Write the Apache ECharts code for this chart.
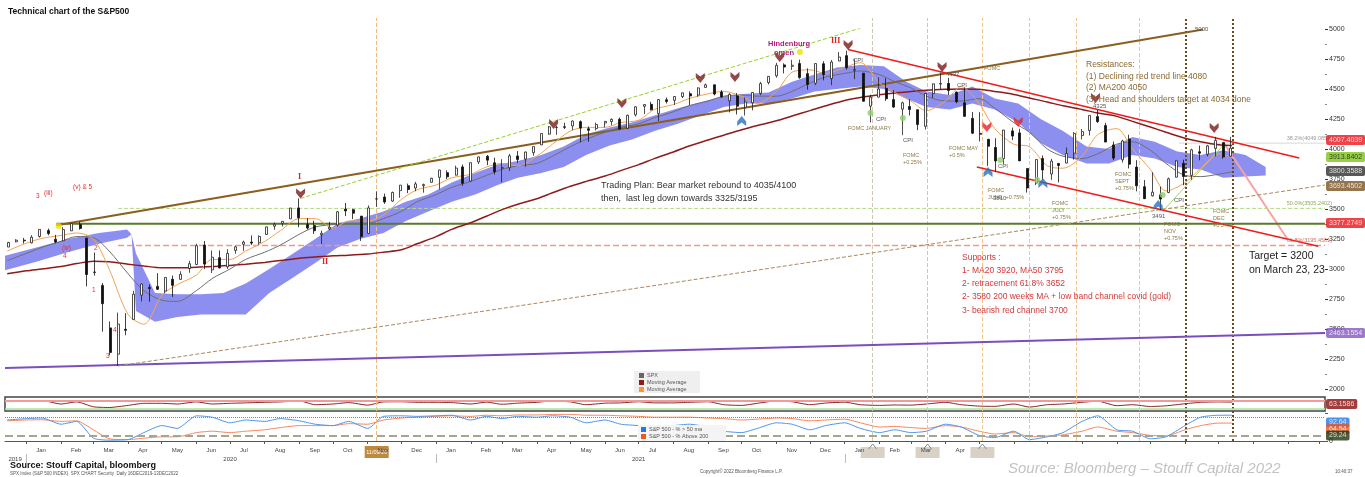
<!DOCTYPE html>
<html><head><meta charset="utf-8">
<script src="https://cdn.jsdelivr.net/npm/echarts@6/dist/echarts.min.js"></script>
<style>html,body{margin:0;padding:0;background:#fff}#c{width:1365px;height:477px}</style>
</head><body><div id="c"></div>
<script>
// ---------------- DATA ----------------
const weeks = ['2019-12-16','2019-12-23','2019-12-30','2020-01-06','2020-01-13','2020-01-21','2020-01-27','2020-02-03','2020-02-10','2020-02-18','2020-02-24','2020-03-02','2020-03-09','2020-03-16','2020-03-23','2020-03-30','2020-04-06','2020-04-13','2020-04-20','2020-04-27','2020-05-04','2020-05-11','2020-05-18','2020-05-26','2020-06-01','2020-06-08','2020-06-15','2020-06-22','2020-06-29','2020-07-06','2020-07-13','2020-07-20','2020-07-27','2020-08-03','2020-08-10','2020-08-17','2020-08-24','2020-08-31','2020-09-08','2020-09-14','2020-09-21','2020-09-28','2020-10-05','2020-10-12','2020-10-19','2020-10-26','2020-11-02','2020-11-09','2020-11-16','2020-11-23','2020-11-30','2020-12-07','2020-12-14','2020-12-21','2020-12-28','2021-01-04','2021-01-11','2021-01-19','2021-01-25','2021-02-01','2021-02-08','2021-02-16','2021-02-22','2021-03-01','2021-03-08','2021-03-15','2021-03-22','2021-03-29','2021-04-05','2021-04-12','2021-04-19','2021-04-26','2021-05-03','2021-05-10','2021-05-17','2021-05-24','2021-06-01','2021-06-07','2021-06-14','2021-06-21','2021-06-28','2021-07-06','2021-07-12','2021-07-19','2021-07-26','2021-08-02','2021-08-09','2021-08-16','2021-08-23','2021-08-30','2021-09-07','2021-09-13','2021-09-20','2021-09-27','2021-10-04','2021-10-11','2021-10-18','2021-10-25','2021-11-01','2021-11-08','2021-11-15','2021-11-22','2021-11-29','2021-12-06','2021-12-13','2021-12-20','2021-12-27','2022-01-03','2022-01-10','2022-01-18','2022-01-24','2022-01-31','2022-02-07','2022-02-14','2022-02-22','2022-02-28','2022-03-07','2022-03-14','2022-03-21','2022-03-28','2022-04-04','2022-04-11','2022-04-18','2022-04-25','2022-05-02','2022-05-09','2022-05-16','2022-05-23','2022-05-31','2022-06-06','2022-06-13','2022-06-21','2022-06-27','2022-07-05','2022-07-11','2022-07-18','2022-07-25','2022-08-01','2022-08-08','2022-08-15','2022-08-22','2022-08-29','2022-09-06','2022-09-12','2022-09-19','2022-09-26','2022-10-03','2022-10-10','2022-10-17','2022-10-24','2022-10-31','2022-11-07','2022-11-14','2022-11-21','2022-11-28','2022-12-05','2022-12-12'];
const wOpen  = [3183,3227,3240,3218,3271,3321,3248,3235,3318,3370,3257,2975,2863,2509,2290,2498,2579,2782,2846,2855,2816,2915,2914,3004,3038,3199,2993,3094,3018,3155,3206,3224,3219,3288,3357,3380,3418,3509,3371,3363,3285,3334,3367,3500,3494,3441,3296,3583,3600,3566,3653,3694,3675,3694,3723,3764,3803,3782,3851,3732,3892,3939,3885,3842,3844,3942,3916,3969,4034,4124,4179,4185,4192,4228,4169,4170,4217,4229,4248,4173,4285,4356,4372,4296,4410,4406,4437,4461,4450,4513,4535,4474,4402,4442,4348,4385,4464,4553,4610,4701,4689,4712,4628,4548,4710,4587,4733,4778,4655,4632,4357,4432,4506,4412,4332,4354,4327,4189,4462,4541,4547,4474,4385,4255,4130,4081,4013,3920,4151,4134,3838,3716,3921,3792,3880,3883,3966,4112,4155,4270,4195,4034,3910,4084,3849,3686,3610,3618,3638,3765,3881,3780,3977,3956,4005,4053,3940];
const wHigh  = [3226,3248,3259,3282,3329,3337,3285,3348,3385,3393,3260,3137,2883,2563,2637,2632,2818,2879,2871,2965,2931,2945,2981,3068,3211,3233,3155,3155,3165,3190,3236,3280,3280,3352,3387,3399,3509,3588,3425,3402,3320,3393,3482,3550,3502,3441,3530,3646,3628,3645,3699,3712,3726,3712,3760,3827,3823,3861,3871,3887,3937,3950,3928,3915,3960,3983,3978,4020,4130,4192,4195,4219,4238,4238,4188,4220,4234,4255,4262,4286,4356,4372,4393,4415,4429,4442,4470,4480,4513,4545,4536,4492,4465,4466,4429,4475,4560,4608,4718,4714,4743,4744,4672,4713,4731,4741,4808,4819,4749,4632,4453,4596,4591,4490,4395,4416,4327,4466,4546,4637,4593,4479,4513,4308,4307,4081,4090,4159,4178,4168,3838,3913,3946,3918,3880,4013,4141,4167,4280,4325,4218,4062,4077,4119,3907,3741,3806,3686,3762,3905,3911,4002,4028,4034,4101,4053,4101];
const wLow   = [3183,3222,3212,3214,3262,3281,3214,3233,3316,3328,2855,2945,2478,2280,2192,2448,2579,2729,2727,2825,2798,2767,2910,2969,3032,2999,2966,3004,3000,3127,3151,3200,3204,3285,3327,3355,3418,3349,3329,3292,3209,3323,3354,3441,3416,3234,3296,3518,3543,3560,3594,3633,3648,3636,3720,3663,3750,3779,3694,3726,3875,3865,3788,3723,3817,3885,3853,3944,4034,4119,4118,4166,4157,4056,4061,4155,4180,4198,4164,4165,4271,4290,4321,4233,4379,4367,4424,4367,4436,4513,4447,4427,4305,4288,4279,4322,4448,4538,4595,4630,4659,4585,4495,4532,4572,4532,4733,4662,4582,4395,4222,4432,4401,4343,4115,4279,4157,4162,4425,4497,4450,4381,4268,4124,4063,3859,3811,3876,4074,3900,3637,3700,3741,3743,3722,3880,3911,4080,4113,4218,4057,3907,3887,3838,3647,3584,3604,3491,3632,3764,3698,3744,3906,3938,3938,3919,3936];
const wClose = [3221,3240,3235,3265,3330,3295,3225,3328,3380,3338,2954,2972,2711,2305,2541,2489,2790,2875,2837,2831,2930,2864,2955,3044,3194,3041,3098,3009,3130,3185,3225,3216,3271,3351,3373,3397,3508,3427,3341,3319,3298,3348,3477,3484,3465,3270,3509,3585,3558,3638,3699,3663,3709,3703,3756,3825,3768,3841,3714,3886,3934,3907,3811,3842,3943,3913,3975,4020,4129,4185,4180,4181,4233,4174,4156,4204,4230,4247,4166,4281,4352,4370,4327,4412,4395,4437,4468,4442,4509,4535,4458,4433,4455,4357,4391,4471,4545,4605,4697,4683,4698,4595,4538,4712,4620,4725,4766,4677,4663,4398,4432,4500,4419,4349,4385,4329,4204,4463,4543,4546,4488,4393,4272,4132,4123,4023,3901,4158,4108,3901,3675,3912,3825,3899,3863,3962,4130,4145,4280,4228,4058,3924,4067,3873,3693,3586,3640,3583,3752,3901,3771,3993,3965,4026,4072,3934,4007];

const semiDates = ['2019-12-15','2020-01-01','2020-01-15','2020-02-01','2020-02-15','2020-03-01','2020-03-15','2020-04-01','2020-04-15','2020-05-01','2020-05-15','2020-06-01','2020-06-15','2020-07-01','2020-07-15','2020-08-01','2020-08-15','2020-09-01','2020-09-15','2020-10-01','2020-10-15','2020-11-01','2020-11-15','2020-12-01','2020-12-15','2021-01-01','2021-01-15','2021-02-01','2021-02-15','2021-03-01','2021-03-15','2021-04-01','2021-04-15','2021-05-01','2021-05-15','2021-06-01','2021-06-15','2021-07-01','2021-07-15','2021-08-01','2021-08-15','2021-09-01','2021-09-15','2021-10-01','2021-10-15','2021-11-01','2021-11-15','2021-12-01','2021-12-15','2022-01-01','2022-01-15','2022-02-01','2022-02-15','2022-03-01','2022-03-15','2022-04-01','2022-04-15','2022-05-01','2022-05-15','2022-06-01','2022-06-15','2022-07-01','2022-07-15','2022-08-01','2022-08-15','2022-09-01','2022-09-15','2022-10-01','2022-10-15','2022-11-01','2022-11-15','2022-12-01','2022-12-13'];
const ma20  = [3150,3215,3255,3280,3300,3250,3000,2620,2540,2780,2870,2950,3080,3080,3150,3230,3320,3420,3420,3340,3400,3400,3450,3580,3660,3700,3760,3790,3850,3880,3860,3940,4040,4150,4180,4180,4220,4240,4330,4370,4420,4460,4480,4440,4380,4480,4640,4660,4630,4680,4720,4550,4470,4400,4320,4400,4520,4380,4170,4040,4020,3860,3840,3940,4120,4170,4000,3830,3650,3720,3840,3960,3930];
const ma50  = [3070,3130,3180,3230,3270,3260,3150,2960,2820,2740,2730,2820,2920,3000,3080,3140,3200,3290,3350,3370,3380,3380,3420,3480,3560,3620,3680,3730,3780,3830,3860,3880,3940,4020,4080,4140,4180,4210,4260,4310,4360,4400,4440,4450,4440,4440,4480,4550,4600,4630,4650,4620,4560,4510,4440,4400,4400,4420,4340,4220,4140,4000,3940,3920,3960,4040,4060,3990,3880,3780,3770,3790,3810];
const ma200 = [2960,2985,3000,3020,3045,3065,3060,3040,3025,3010,3010,3015,3020,3030,3040,3055,3070,3090,3100,3110,3115,3125,3140,3160,3210,3270,3330,3385,3440,3495,3540,3585,3635,3690,3730,3775,3820,3870,3920,3975,4025,4075,4115,4160,4195,4235,4275,4320,4360,4405,4430,4452,4466,4480,4490,4497,4500,4498,4480,4455,4425,4392,4360,4330,4300,4272,4230,4183,4140,4090,4060,4035,4030];
const rsi   = [70,72,75,50,65,30,25,40,55,55,50,65,50,55,58,62,65,72,45,50,60,42,65,66,62,62,60,50,63,48,56,62,72,65,45,56,58,66,58,58,62,66,45,40,55,72,66,45,57,63,45,40,43,42,50,62,45,35,33,50,28,45,50,62,70,38,45,32,37,52,62,65,63];
const pct50 = [75,80,82,60,70,10,3,5,30,55,45,90,85,65,75,70,80,72,60,55,70,45,88,90,88,90,92,75,88,80,88,85,90,85,65,75,60,55,50,55,60,50,35,30,45,65,60,40,55,65,45,30,40,30,35,60,50,20,12,35,5,15,30,70,90,40,35,8,15,55,85,92,92];
const pct200= [72,75,76,70,72,40,8,5,10,15,15,30,35,30,35,40,48,55,55,55,62,60,75,82,85,88,90,88,92,90,93,93,95,95,92,92,90,88,85,85,85,82,80,75,78,82,80,72,75,78,65,50,52,48,45,55,50,35,25,30,15,18,22,35,50,35,30,20,18,40,55,64,64];

const cloudDates = ['2019-12-13','2020-01-10','2020-02-07','2020-03-06','2020-03-31','2020-04-04','2020-04-08','2020-04-25','2020-05-15','2020-06-05','2020-06-25','2020-07-15','2020-08-05','2020-08-25','2020-09-15','2020-10-05','2020-10-25','2020-11-15','2020-12-05','2020-12-25','2021-01-15','2021-02-05','2021-02-25','2021-03-15','2021-04-05','2021-04-25','2021-05-15','2021-06-05','2021-06-25','2021-07-15','2021-08-05','2021-08-25','2021-09-15','2021-10-05','2021-10-25','2021-11-15','2021-12-05','2021-12-25','2022-01-15','2022-02-05','2022-02-25','2022-03-15','2022-04-05','2022-04-25','2022-05-15','2022-06-05','2022-06-25','2022-07-15','2022-08-05','2022-08-25','2022-09-15','2022-10-05','2022-10-25','2022-11-15','2022-12-05','2022-12-25','2023-01-12'];
const cloudLo = [2990,3060,3140,3210,3260,3290,2650,2560,2600,2620,2620,2620,2800,2920,3050,3180,3250,3300,3400,3480,3560,3620,3700,3760,3800,3850,3950,4030,4080,4150,4210,4280,4350,4380,4380,4420,4480,4500,4520,4500,4420,4350,4330,4380,4330,4220,4050,3950,3880,3880,3950,3920,3850,3830,3760,3770,3780];
const cloudHi = [3110,3180,3250,3300,3330,3290,3130,2800,2790,2790,2800,2880,3000,3120,3250,3380,3420,3480,3560,3620,3720,3800,3870,3900,3950,4020,4120,4180,4220,4280,4340,4390,4440,4460,4470,4560,4620,4680,4700,4690,4560,4480,4450,4520,4420,4380,4250,4150,4020,4000,4100,4060,3980,3950,3990,3950,3850];

// trend lines: [date, price] end points
const brownTrend   = [['2020-01-28',3365],['2022-11-17',4995]];
const greenChannel = [['2020-09-02',3588],['2022-02-02',5058]];
const covidChannel = [['2020-03-23',2192],['2023-03-06',3700]];
const purpleLine   = [['2019-12-13',2175],['2023-03-06',2467]];
const redTop       = [['2022-01-04',4830],['2023-02-11',3925]];
const redBottom    = [['2022-04-29',3850],['2023-02-28',3190]];
const pinkArrow    = [['2022-12-05',4058],['2023-02-01',3242]];
const greenShort   = [['2022-10-13',3491],['2022-12-05',4030]];
const level3377 = [['2020-01-28',3377],['2023-03-06',3377]];
const level3505 = [['2020-03-23',3505],['2023-03-06',3505]];
const level3195 = [['2020-03-23',3195],['2023-03-06',3195]];
const level4049 = [['2022-10-27',4049],['2023-03-06',4049]];

const sellDates  = ['2020-09-02','2021-04-16','2021-06-16','2021-08-25','2021-09-25','2021-11-04','2022-01-04','2022-03-29','2022-08-13','2022-11-27'];
const sellPrices = [3630,4208,4383,4592,4600,4767,4867,4683,4425,4175];
const redArrowDates = ['2022-05-08','2022-06-05'];
const redArrowPrices = [4183,4225];
const buyDates  = ['2021-10-01','2022-05-09','2022-06-27','2022-10-08'];
const buyPrices = [4233,3808,3717,3533];
const greenDotDates = ['2022-01-24','2022-02-22','2022-05-20','2022-06-22','2022-10-12'];
const greenDotPrices = [4300,4258,3908,3742,3617];
const yellowDotDates = ['2020-01-30','2021-11-22'];
const yellowDotPrices = [3358,4808];

const fomcMinor = ['2022-05-04','2022-06-15','2022-07-27','2022-09-21'];
const fomcGray  = ['2022-01-26','2022-03-16'];
const fomcMajor = ['2022-11-02','2022-12-14'];
const vaccineDay = '2020-11-09';

const tagTexts = ['4007.4039','3913.8402','3800.3588','3693.4502','3377.2749','2463.1554'];
const tagPos   = [4075,3933,3817,3692,3383,2467];
const rsiTagText = ['63.1586'];  const rsiTagPos = [50];
const brTagText = ['92.64','64.54','29.24']; const brTagPos = [66,44,20];

const monthNames = ['Jan','Feb','Mar','Apr','May','Jun','Jul','Aug','Sep','Oct','Nov','Dec'];
const yearLabels = [['2019','2019-12-22'],['2020','2020-07-01'],['2021','2021-07-01']];
const X_MIN = '2019-12-13', X_MAX = '2023-03-06';

// ---------------- STYLE ----------------
const FONT = '"Liberation Sans", Arial, sans-serif';
const TAG_BG = ['#e8141c','#7cc417','#2e2e2e','#7a5322','#e8141c','#8558be'];
const TAG_FG = ['#fff','#1a1a1a','#fff','#fff','#fff','#fff'];
const BR_BG = ['#1f78e6','#f0561e','#23330e'];

function ts(d){const p=d.split('-').map(Number);return new Date(p[0],p[1]-1,p[2]).getTime();}
function pts(a,b){return a.map((d,i)=>[d,b[i]]);}

const chart = echarts.init(document.getElementById('c'), null, {renderer:'canvas'});

function xAx(gi, show){
  return {type:'time', gridIndex:gi, min:ts(X_MIN), max:ts(X_MAX), show:show, splitLine:{show:false}};
}
const bottomX = xAx(3,true);
Object.assign(bottomX,{
  splitNumber:40, minInterval:27*864e5, maxInterval:32*864e5,
  axisLine:{show:true,lineStyle:{color:'#555',width:1}},
  axisTick:{show:true,length:3,lineStyle:{color:'#555'}},
  axisLabel:{fontSize:6, color:'#444', fontFamily:FONT, margin:6, align:'left', padding:[0,0,0,10],
    formatter:function(v){const d=new Date(v); if(d<new Date(2020,0,1)||d>new Date(2022,3,15)) return ''; return monthNames[d.getMonth()];}}
});

function line(data, color, width, type, extra){
  return Object.assign({type:'line', xAxisIndex:1, yAxisIndex:1, data:data, symbol:'none', silent:true,
    lineStyle:{color:color,width:width,type:type||'solid'}, z:5}, extra||{});
}
function lvlLabel(txt,color){
  return {endLabel:{show:true, formatter:txt, color:color, fontSize:5.5, fontFamily:FONT, align:'right', offset:[-1,-5]}};
}
function vlines(dates,color,width,type){
  return {type:'line', xAxisIndex:0, yAxisIndex:0, data:[[ts(X_MIN),0.5]], symbol:'none', silent:true, lineStyle:{opacity:0},
    markLine:{symbol:'none', silent:true, label:{show:false}, lineStyle:{color:color,width:width,type:type},
      data:dates.map(d=>({xAxis:ts(d)}))}, z:1};
}
function markers(dates,prices,symbol,color,size,offset){
  return {type:'scatter', xAxisIndex:1, yAxisIndex:1, data:pts(dates,prices), symbol:symbol, symbolSize:size,
    symbolOffset:offset||[0,0], itemStyle:{color:color}, silent:true, z:12};
}
function tags(xi,yi,pos,texts,bgs,fgs){
  return {type:'scatter', xAxisIndex:xi, yAxisIndex:yi, symbolSize:0, clip:false, silent:true, z:30,
    data:pos.map((v,i)=>({value:[ts(X_MAX),v], label:{formatter:texts[i], backgroundColor:bgs[i], color:fgs[i]}})),
    label:{show:true, position:'right', distance:1, fontSize:7, fontFamily:FONT, padding:[2,3,1,3], borderRadius:2}};
}

const DOWN = 'path://M0,0 L5,4 L10,0 L10,5 L5,11 L0,5 Z';
const UP   = 'path://M0,11 L5,7 L10,11 L10,6 L5,0 L0,6 Z';

const option = {
  animation:false,
  backgroundColor:'#fff',
  grid:[
    {left:5,right:40,top:18,bottom:36,outerBoundsMode:'none'},
    {left:5,right:40,top:29,height:360,outerBoundsMode:'none'},
    {left:5,right:40,top:397,height:14,show:true,borderColor:'#444',borderWidth:1.5,outerBoundsMode:'none'},
    {left:5,right:40,top:413,height:28,outerBoundsMode:'none'}
  ],
  xAxis:[xAx(0,false),xAx(1,false),xAx(2,false),bottomX],
  yAxis:[
    {gridIndex:0,type:'value',min:0,max:1,show:false},
    {gridIndex:1,type:'value',position:'right',min:2000,max:5000,interval:250,
      splitLine:{show:false},axisLine:{show:false},
      axisTick:{show:true,length:3,lineStyle:{color:'#333'}},
      minorTick:{show:true,splitNumber:2,length:2,lineStyle:{color:'#888'}},
      axisLabel:{fontSize:7,color:'#333',margin:4,fontFamily:FONT,formatter:v=>String(v)}},
    {gridIndex:2,type:'value',min:0,max:100,show:false},
    {gridIndex:3,type:'value',position:'right',min:0,max:100,interval:100,splitLine:{show:false},
      axisLine:{show:false},axisTick:{show:true,length:3},
      axisLabel:{fontSize:7,color:'#333',margin:4,fontFamily:FONT,formatter:v=>v===0?'0':''}}
  ],
  series:[
    vlines([vaccineDay],'#f2b97a',1,'dashed'),
    vlines(fomcGray,'#cfc6b4',1,'dashed'),
    vlines(fomcMinor,'#f3c58e',1,'dashed'),
    vlines(fomcMajor,'#6b4a1e',2,'dotted'),
    // Ichimoku cloud
    {type:'custom', xAxisIndex:1, yAxisIndex:1, data:[[ts(X_MIN),3000]], silent:true, z:2, clip:true,
      renderItem:function(params, api){
        const p=[];
        for(let i=0;i<cloudDates.length;i++) p.push(api.coord([ts(cloudDates[i]),cloudHi[i]]));
        for(let i=cloudDates.length-1;i>=0;i--) p.push(api.coord([ts(cloudDates[i]),cloudLo[i]]));
        return {type:'polygon', shape:{points:p}, style:{fill:'#8d8ff0'}, clipPath:{type:'rect',shape:params.coordSys}};
      }},
    line(level3377,'#5a7a2a',2,'solid'),
    line(level3505,'#b5d88a',1,'dashed',lvlLabel('50.0%(3505.2402)','#8aaa5a')),
    line(level3195,'#eb9a8a',1.5,'dashed',lvlLabel('61.8%(3195.4501)','#d07060')),
    line(level4049,'#b0b0b0',1,'dotted',lvlLabel('38.2%(4049.0851)','#999')),
    line(purpleLine,'#7b4fbb',2,'solid'),
    line(covidChannel,'#a88a5e',1,'dashed'),
    line(brownTrend,'#8b5e1e',2,'solid'),
    line(greenChannel,'#9acd32',1,'dashed'),
    line(greenShort,'#9fd86a',1,'solid'),
    line(redTop,'#ee1c1c',1.5,'solid'),
    line(redBottom,'#ee1c1c',1.5,'solid'),
    {type:'line', xAxisIndex:1, yAxisIndex:1, data:[], silent:true, z:9,
      markLine:{silent:true, symbol:['none','arrow'], symbolSize:[0,10], label:{show:false},
        lineStyle:{color:'#f5a3a3',width:2,type:'solid'},
        data:[[{coord:[ts(pinkArrow[0][0]),pinkArrow[0][1]]},{coord:[ts(pinkArrow[1][0]),pinkArrow[1][1]]}]]}},
    line(pts(semiDates,ma200),'#8e1b1b',1.5,'solid',{smooth:0.3,z:6}),
    line(pts(semiDates,ma50),'#6e6e6e',1,'solid',{smooth:0.3,z:6}),
    line(pts(semiDates,ma20),'#f5a251',1,'solid',{smooth:0.3,z:6}),
    {type:'candlestick', xAxisIndex:1, yAxisIndex:1, barWidth:2.5, silent:true, z:7,
      data:weeks.map((d,i)=>[ts(d),wOpen[i],wClose[i],wLow[i],wHigh[i]]),
      encode:{x:0,y:[1,2,3,4]},
      itemStyle:{color:'#ffffff',color0:'#111',borderColor:'#222',borderColor0:'#111',borderWidth:0.8}},
    markers(sellDates,sellPrices,DOWN,'#7a1a1a',[9,10]),
    markers(redArrowDates,redArrowPrices,DOWN,'#e52424',[9,10]),
    markers(buyDates,buyPrices,UP,'#2d6fbe',[9,10]),
    markers(greenDotDates,greenDotPrices,'circle','#8fd06a',6),
    markers(yellowDotDates,yellowDotPrices,'circle','#f3e000',6),
    tags(1,1,tagPos,tagTexts,TAG_BG,TAG_FG),
    // panel A
    {type:'line', xAxisIndex:2, yAxisIndex:2, data:pts(semiDates,rsi), symbol:'none', silent:true, smooth:0.2,
      lineStyle:{color:'#8e2020',width:1},
      markLine:{symbol:'none',silent:true,label:{show:false},data:[
        {yAxis:72,lineStyle:{color:'#f29a9a',width:2,type:'solid'}},
        {yAxis:16,lineStyle:{color:'#a8e29a',width:1.5,type:'solid'}}]}},
    tags(2,2,rsiTagPos,rsiTagText,['#8b0c0c'],['#fff']),
    // panel B
    {type:'line', xAxisIndex:3, yAxisIndex:3, data:pts(semiDates,pct200), symbol:'none', silent:true, smooth:0.2,
      lineStyle:{color:'#f4865c',width:1},
      markLine:{symbol:'none',silent:true,label:{show:false},data:[
        {yAxis:85,lineStyle:{color:'#888',width:1,type:'dotted'}},
        {yAxis:20,lineStyle:{color:'#a5a590',width:2,type:'dashed'}}]}},
    {type:'line', xAxisIndex:3, yAxisIndex:3, data:pts(semiDates,pct50), symbol:'none', silent:true, smooth:0.2,
      lineStyle:{color:'#4d94ec',width:1}},
    tags(3,3,brTagPos,brTagText,BR_BG,['#fff','#fff','#fff'])
  ]
};
chart.setOption(option);

// ---------------- TEXT / GRAPHICS ----------------
const S = {
  title:{font:'bold 8.5px '+FONT, fill:'#111'},
  plan:{font:'9px '+FONT, fill:'#333'},
  res:{font:'8.5px '+FONT, fill:'#8a6a30'},
  sup:{font:'8.5px '+FONT, fill:'#d23a3a'},
  target:{font:'10.5px '+FONT, fill:'#222'},
  hind:{font:'bold 7.5px '+FONT, fill:'#b0207a'},
  roman:{font:'bold 8px "Liberation Serif", serif', fill:'#e02020'},
  wave:{font:'6.5px '+FONT, fill:'#e03030'},
  fomc:{font:'5.5px '+FONT, fill:'#8b7a48'},
  num:{font:'6px '+FONT, fill:'#555'},
  src:{font:'bold 9px '+FONT, fill:'#111'},
  tiny:{font:'4.5px '+FONT, fill:'#555'},
  wm:{font:'italic 15px '+FONT, fill:'#c3c3c3'},
  leg:{font:'5.5px '+FONT, fill:'#555'}
};
const notes = [
  [8,12,'Technical chart of the S&P500','title'],
  [601,186,'Trading Plan: Bear market rebound to 4035/4100','plan'],
  [601,199,'then,  last leg down towards 3325/3195','plan'],
  [1086,65,'Resistances:','res'],
  [1086,77,'(1) Declining red trend line 4080','res'],
  [1086,88,'(2) MA200 4050','res'],
  [1086,100,'(3) Head and shoulders target at 4034 done','res'],
  [962,258,'Supports :','sup'],
  [962,271,'1- MA20 3920, MA50 3795','sup'],
  [962,284,'2- retracement 61.8% 3652','sup'],
  [962,297,'2- 3580 200 weeks MA + low band channel covid (gold)','sup'],
  [962,311,'3- bearish red channel 3700','sup'],
  [1249,256,'Target = 3200','target'],
  [1249,270,'on March 23, 23','target'],
  [768,44,'Hindenburg','hind'],[774,53,'omen','hind'],
  [831,41,'III','roman'],[298,177,'I','roman'],[322,262,'II','roman'],
  [36,196,'3','wave'],[44,193,'(iii)','wave'],[73,187,'(v) & 5','wave'],[62,248,'(iv)','wave'],[63,256,'4','wave'],
  [92,290,'1','wave'],[94,248,'2','wave'],[106,356,'3','wave'],[113,330,'4','wave'],
  [848,128,'FOMC JANUARY','fomc'],
  [903,155,'FOMC','fomc'],[903,162,'+0.25%','fomc'],
  [949,148,'FOMC MAY','fomc'],[949,155,'+0.5%','fomc'],
  [984,68,'FOMC','fomc'],
  [988,190,'FOMC','fomc'],[988,197,'JUNE  +0.75%','fomc'],
  [1052,203,'FOMC','fomc'],[1052,210,'JULY','fomc'],[1052,217,'+0.75%','fomc'],
  [1115,174,'FOMC','fomc'],[1115,181,'SEPT','fomc'],[1115,188,'+0.75%','fomc'],
  [1164,224,'FOMC','fomc'],[1164,231,'NOV','fomc'],[1164,238,'+0.75%','fomc'],
  [1213,211,'FOMC','fomc'],[1213,218,'DEC','fomc'],[1213,225,'+0.5%','fomc'],
  [853,60,'CPI','num'],[876,119,'CPI','num'],[903,140,'CPI','num'],[957,85,'CPI','num'],[998,166,'CPI','num'],[1174,200,'CPI','num'],
  [1093,106,'4325','num'],[946,74,'4637','num'],[993,198,'3810','num'],[1152,216,'3491','num'],[1195,29,'5000','num'],
  [10,466,'Source: Stouff Capital, bloomberg','src'],
  [10,474,'SPX Index (S&P 500 INDEX)  SPX CHART Security  Daily 16DEC2019-13DEC2022','tiny'],
  [700,472,'Copyright© 2022 Bloomberg Finance L.P.','tiny'],
  [1008,469,'Source: Bloomberg \u2013 Stouff Capital 2022','wm'],
  [1335,472,'10:40:37','tiny']
];
const g = notes.map((n,i)=>({type:'text', id:'n'+i, x:n[0], y:n[1], silent:true, z:50,
  style:Object.assign({text:n[2], verticalAlign:'middle', align:'left'}, S[n[3]])}));

g.push({type:'rect',id:'lg1',shape:{x:634,y:371,width:66,height:22},style:{fill:'#efefef'},z:40,silent:true});
[['SPX','#666'],['Moving Average','#8e1b1b'],['Moving Average','#f39a33']].forEach((r,i)=>{
  g.push({type:'rect',id:'lg1r'+i,shape:{x:639,y:373+i*7,width:5,height:5},style:{fill:r[1]},z:41,silent:true});
  g.push({type:'text',id:'lg1t'+i,x:647,y:375.5+i*7,style:Object.assign({text:r[0],verticalAlign:'middle'},S.leg),z:41,silent:true});
});
g.push({type:'rect',id:'lg2',shape:{x:638,y:425,width:88,height:16},style:{fill:'#f4f4f4'},z:40,silent:true});
[['S&P 500 - % > 50 ma','#1f78e6'],['S&P 500 - % Above 200','#f0561e']].forEach((r,i)=>{
  g.push({type:'rect',id:'lg2r'+i,shape:{x:641,y:427+i*7,width:5,height:5},style:{fill:r[1]},z:41,silent:true});
  g.push({type:'text',id:'lg2t'+i,x:649,y:429.5+i*7,style:Object.assign({text:r[0],verticalAlign:'middle'},S.leg),z:41,silent:true});
});

const px = d => chart.convertToPixel({xAxisIndex:3}, ts(d));
yearLabels.forEach((y,i)=>{
  g.push({type:'text',id:'yr'+i,x:px(y[1]),y:459,silent:true,
    style:{text:y[0],font:'6px '+FONT,fill:'#444',align:'center',verticalAlign:'middle'}});
});
['2020-01-01','2021-01-01','2022-01-01'].forEach((d,i)=>{
  const x=Math.round(px(d))+0.5;
  g.push({type:'line',id:'ys'+i,shape:{x1:x,y1:454,x2:x,y2:463},style:{stroke:'#bbb',lineWidth:1},silent:true});
});
{
  const x=px(vaccineDay);
  g.push({type:'rect',id:'vb',shape:{x:x-12,y:446,width:24,height:12},style:{fill:'#bf8a3c'},silent:true});
  g.push({type:'text',id:'vt',x:x,y:452,style:{text:'11/09/20',font:'5.5px '+FONT,fill:'#fff',align:'center',verticalAlign:'middle'},silent:true});
}
fomcGray.concat(['2022-05-04']).forEach((d,i)=>{
  const x=px(d);
  g.push({type:'rect',id:'eb'+i,shape:{x:x-12,y:447,width:24,height:11},style:{fill:'#d9d1c5'},silent:true});
  g.push({type:'polyline',id:'ea'+i,shape:{points:[[x-4,449],[x,444],[x+4,449]]},style:{stroke:'#888',fill:null,lineWidth:1},silent:true});
});
chart.setOption({graphic:{elements:g}});
</script></body></html>
